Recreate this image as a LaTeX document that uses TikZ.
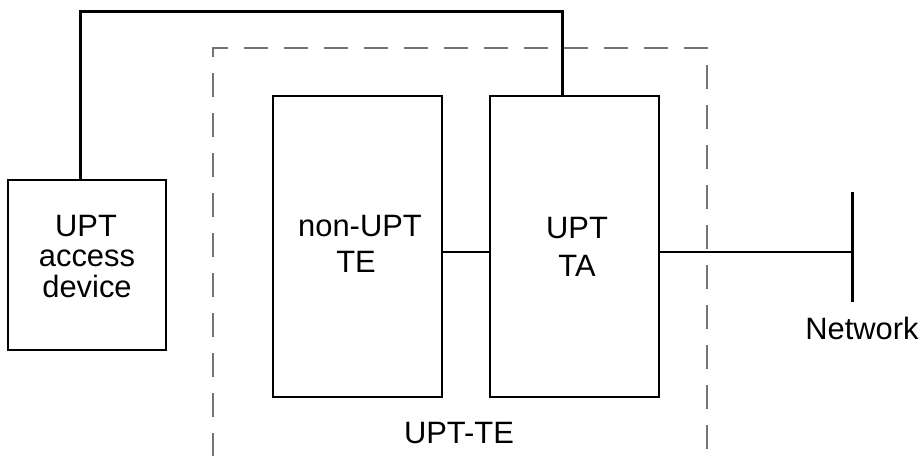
\documentclass[tikz,border=0pt]{standalone}
\usepackage{fontspec}
\setmainfont{Liberation Sans}
\begin{document}
\begin{tikzpicture}[x=1bp,y=-1bp,
  box/.style={draw=black,line width=2bp,minimum width=#1,inner sep=0pt,fill=none},
  txt/.style={font=\fontsize{31}{36}\selectfont,anchor=base,inner sep=0pt},
  thickline/.style={line width=3bp},
  link/.style={line width=2.6bp},
  frame/.style={draw=black!55,line width=1.1bp,dash pattern=on 24bp off 16bp,dash phase=1bp}]
\useasboundingbox (0,0) rectangle (923,456);
% boxes
\node[box=158bp,minimum height=170bp] (acc) at (87,265) {};
\node[box=169bp,minimum height=301bp] (te) at (357.5,246.5) {};
\node[box=169bp,minimum height=301bp] (ta) at (574.5,246.5) {};
% texts
\node[txt] (acc1) at (86,237) {UPT};
\node[txt] (acc2) at (87,267) {access};
\node[txt] (acc3) at (87,298) {device};
\node[txt] (te1) at (360,237) {non-UPT};
\node[txt] (te2) at (356,273) {TE};
\node[txt] (ta1) at (577,239) {UPT};
\node[txt] (ta2) at (577,277) {TA};
\node[txt] (net) at (862,340) {Network};
\node[txt] (upte) at (459,443) {UPT-TE};
% dashed frame
\draw[frame] (213,456) -- (213,48) -- (707,48) -- (707,456);
% coordinates
\coordinate (r1) at (80,12);
\coordinate (r2) at (562,12);
\coordinate (m) at (0,252);
\coordinate (nb1) at (852,192);
\coordinate (nb2) at (852,302);
% connectors
\draw[thickline] (acc.north -| r1) |- (r2) -- (ta.north -| r2);
\draw[link] (te.east |- m) -- (ta.west |- m);
\draw[link] (ta.east |- m) -- (nb1 |- m);
\draw[thickline] (nb1) -- (nb2);
\end{tikzpicture}
\end{document}
